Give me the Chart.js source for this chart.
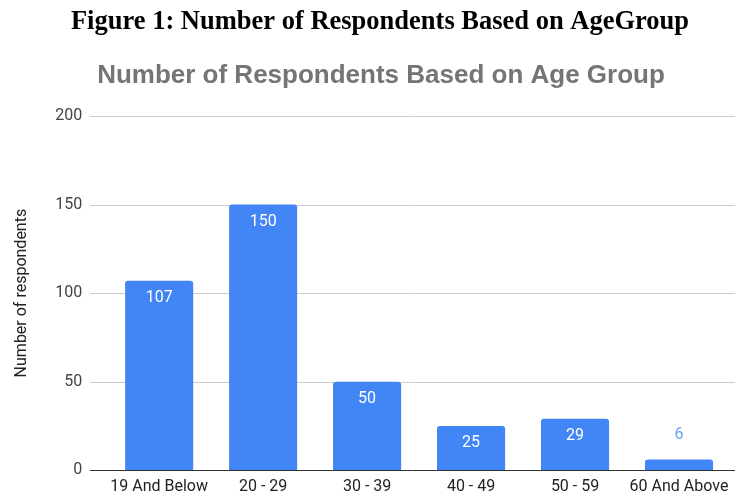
<!DOCTYPE html>
<html><head><meta charset="utf-8">
<script src="https://cdn.jsdelivr.net/npm/chart.js@4"></script>
<style>html,body{margin:0;padding:0;background:#fff}#wrap{width:737px;height:495px}</style>
</head><body><div id="wrap"><canvas id="c" width="737" height="495"></canvas></div>
<script>
const categories = ["19 And Below", "20 - 29", "30 - 39", "40 - 49", "50 - 59", "60 And Above"];
const respondents = [107, 150, 50, 25, 29, 6];
const yTicks = [0, 50, 100, 150, 200];
const figureTitle = "Figure 1: Number of Respondents Based on AgeGroup";
const chartTitle = "Number of Respondents Based on Age Group";
const yAxisTitle = "Number of respondents";

const gridPlugin = {
  id: 'grid',
  beforeDatasetsDraw(chart) {
    const ctx = chart.ctx, y = chart.scales.y;
    ctx.save();
    yTicks.forEach(v => {
      const py = Math.round(y.getPixelForValue(v)) + 0.5;
      ctx.beginPath();
      ctx.strokeStyle = '#cccccc';
      ctx.lineWidth = 1;
      ctx.moveTo(90, py); ctx.lineTo(735, py); ctx.stroke();
    });
    ctx.restore();
  },
  afterDatasetsDraw(chart) {
    const ctx = chart.ctx, y = chart.scales.y;
    const py = Math.round(y.getPixelForValue(0)) + 0.5;
    ctx.save();
    ctx.strokeStyle = '#333333'; ctx.lineWidth = 1;
    ctx.beginPath(); ctx.moveTo(90, py); ctx.lineTo(735, py); ctx.stroke();
    const meta = chart.getDatasetMeta(0);
    ctx.font = '16px Roboto';
    ctx.textAlign = 'center'; ctx.textBaseline = 'middle';
    meta.data.forEach((bar, i) => {
      const h = bar.base - bar.y;
      if (h > 30) { ctx.fillStyle = '#ffffff'; ctx.fillText(String(respondents[i]), bar.x, bar.y + 17); }
      else { ctx.fillStyle = '#6ea1f7'; ctx.fillText(String(respondents[i]), bar.x, bar.y - 25); }
    });
    // titles
    ctx.textBaseline = 'middle';
    ctx.fillStyle = '#000';
    ctx.font = 'bold 26.5px "Liberation Serif"';
    ctx.fillText(figureTitle, 380, 22);
    ctx.fillStyle = '#757575';
    ctx.font = 'bold 26px "Liberation Sans"';
    ctx.fillText(chartTitle, 381, 76);
    ctx.restore();
  }
};

new Chart(document.getElementById('c'), {
  type: 'bar',
  data: { labels: categories, datasets: [{ data: respondents, backgroundColor: '#4285f4', borderRadius: {topLeft: 3, topRight: 3}, borderSkipped: 'bottom', barPercentage: 0.655, categoryPercentage: 1 }] },
  options: {
    responsive: false, animation: false,
    layout: { padding: { left: 12, right: 6, top: 116, bottom: 0 } },
    plugins: { legend: { display: false }, tooltip: { enabled: false } },
    scales: {
      x: { grid: { display: false, drawTicks: true, tickLength: 8 }, border: { display: false },
           ticks: { color: '#222', font: { family: 'Roboto', size: 16, lineHeight: 1.05 }, padding: 0, maxRotation: 0, autoSkip: false } },
      y: { min: 0, max: 200, grid: { display: false, drawTicks: true, tickLength: 25 }, border: { display: false },
           afterBuildTicks: s => { s.ticks = yTicks.map(v => ({ value: v })); },
           ticks: { color: '#444', font: { family: 'Roboto', size: 16 }, padding: 0 },
           title: { display: true, text: yAxisTitle, color: '#222', font: { family: 'Roboto', size: 16 }, padding: { top: 0, bottom: 24 } } }
    }
  },
  plugins: [gridPlugin]
});
</script></body></html>
